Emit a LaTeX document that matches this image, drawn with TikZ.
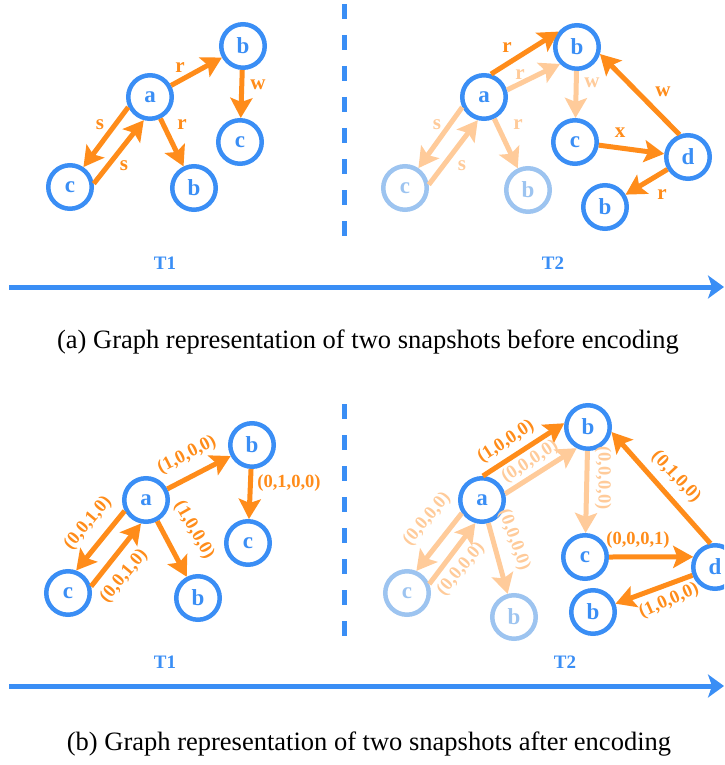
\documentclass[tikz,border=0pt]{standalone}
\usepackage{fontspec}
\usepackage{graphicx}
\setmainfont{Liberation Serif}
\usetikzlibrary{arrows.meta}
\definecolor{nblue}{HTML}{3A8EF5}
\definecolor{lblue}{HTML}{9DC4F0}
\definecolor{dor}{HTML}{FF8C1A}
\definecolor{lor}{HTML}{FFCB9A}
\tikzset{
 nd/.style={circle,draw=nblue,line width=4.5pt,minimum size=43.5pt,inner sep=0pt,text=nblue,font=\bfseries\fontsize{23}{23}\selectfont},
 ndl/.style={nd,draw=lblue,text=lblue},
 ed/.style={draw=dor,line width=5pt,-{Stealth[length=20pt,width=22pt,inset=4pt]}},
 edl/.style={ed,draw=lor},
 lab/.style={text=dor,font=\bfseries\fontsize{21}{21}\selectfont,inner sep=0pt},
 labl/.style={lab,text=lor},
 vlab/.style={text=dor,font=\bfseries\fontsize{18.5}{18.5}\selectfont,inner sep=0pt},
 vlabl/.style={vlab,text=lor},
 tl/.style={text=nblue,font=\bfseries\fontsize{19}{19}\selectfont,inner sep=0pt},
 axisarrow/.style={draw=nblue,line width=5pt,-{Stealth[length=16pt,width=23pt,inset=4pt]}},
 sepline/.style={draw=nblue,line width=5pt,dash pattern=on 15pt off 16pt},
 captext/.style={font=\fontsize{26.5}{26.5}\selectfont,inner sep=0pt}
}
\begin{document}
\begin{tikzpicture}[x=1pt,y=-1pt]
\clip (0,0) rectangle (724,765);
% ===== Panel (a) T1 =====
\node[nd] (a1) at (150,97) {a};
\node[nd] (b1) at (243,46) {b};
\node[nd] (c1) at (240,142) {c};
\node[nd] (cl1) at (70,187) {c};
\node[nd] (bb1) at (194,188) {b};
\draw[ed] (a1) -- (b1);
\draw[ed] (b1) -- (c1);
\draw[ed] (a1) -- (bb1);
\draw[ed] (a1.205) -- (cl1.56);
\draw[ed] (cl1.8) -- (a1.255);
\node[lab] (la1) at (180,68) {r};
\node[lab] (la2) at (258,85) {w};
\node[lab] (la3) at (100,125) {s};
\node[lab] (la4) at (124,166) {s};
\node[lab] (la5) at (182,125) {r};
% ===== Panel (a) T2 =====
\node[nd] (a2) at (484,97) {a};
\node[nd] (b2) at (577,47) {b};
\node[ndl] (cl2) at (405,188) {c};
\node[ndl] (bl2) at (528,190) {b};
\node[nd] (c2) at (575,142) {c};
\node[nd] (d2) at (688,157) {d};
\node[nd] (bb2) at (605,207) {b};
\draw[edl] (a2.17) -- (b2.225);
\draw[edl] (b2) -- (c2);
\draw[edl] (a2.205) -- (cl2.56);
\draw[edl] (cl2.8) -- (a2.255);
\draw[edl] (a2) -- (bl2);
\draw[ed] (a2.73) -- (b2.140);
\draw[ed] (c2) -- (d2);
\draw[ed] (d2.111) -- (b2.-17);
\draw[ed] (d2) -- (bb2);
\node[lab] (lb1) at (507,48) {r};
\node[labl] (lb2) at (520,75) {r};
\node[labl] (lb3) at (592,83) {w};
\node[lab] (lb4) at (663,92) {w};
\node[lab] (lb5) at (620,133) {x};
\node[lab] (lb6) at (662,195) {r};
\node[labl] (lb7) at (437,125) {s};
\node[labl] (lb8) at (462,166) {s};
\node[labl] (lb9) at (518,125) {r};
% separator, timeline, caption (a)
\coordinate (s1a) at (344,4);
\coordinate (s1b) at (344,236);
\draw[sepline] (s1a) -- (s1b);
\node[tl] (t1a) at (165,263) {T1};
\node[tl] (t2a) at (553,263) {T2};
\coordinate (ax1) at (9,287);
\coordinate (ax2) at (724,287);
\draw[axisarrow] (ax1) -- (ax2);
\node[captext] (capa) at (368,342) {(a) Graph representation of two snapshots before encoding};
% ===== Panel (b) T1 =====
\node[nd] (a3) at (146,500) {a};
\node[nd] (b3) at (252,445) {b};
\node[nd] (c3) at (248,543) {c};
\node[nd] (cl3) at (68,593) {c};
\node[nd] (bb3) at (198,598) {b};
\draw[ed] (a3) -- (b3);
\draw[ed] (b3) -- (c3);
\draw[ed] (a3) -- (bb3);
\draw[ed] (a3.207) -- (cl3.70);
\draw[ed] (cl3.16) -- (a3.258);
\node[vlab,rotate=27] (lc1) at (187,455) {(1,0,0,0)};
\node[vlab] (lc2) at (289,483) {(0,1,0,0)};
\node[vlab,rotate=-60] (lc3) at (194,530) {(1,0,0,0)};
\node[vlab,rotate=50] (lc4) at (88,523) {(0,0,1,0)};
\node[vlab,rotate=50] (lc5) at (124,576) {(0,0,1,0)};
% ===== Panel (b) T2 =====
\node[nd] (a4) at (482,500) {a};
\node[nd] (b4) at (588,427) {b};
\node[ndl] (cl4) at (407,593) {c};
\node[ndl] (bl4) at (514,617) {b};
\node[nd] (c4) at (585,557) {c};
\node[nd] (d4) at (715,567) {d};
\node[nd] (bb4) at (593,612) {b};
\draw[edl] (a4.15) -- (b4.242);
\draw[edl] (b4) -- (c4);
\draw[edl] (a4.213) -- (cl4.67);
\draw[edl] (cl4.22) -- (a4.254);
\draw[edl] (a4) -- (bl4);
\draw[ed] (a4.88) -- (b4.171);
\draw[ed] (c4.0) -- (d4.155);
\draw[ed] (d4.101) -- (b4.-12);
\draw[ed] (d4) -- (bb4);
\node[vlab,rotate=33] (ld1) at (506,442) {(1,0,0,0)};
\node[vlabl,rotate=33] (ld2) at (530,462) {(0,0,0,0)};
\node[vlabl,rotate=-90] (ld3) at (603,478) {(0,0,0,0)};
\node[vlab,rotate=-47] (ld4) at (676,477) {(0,1,0,0)};
\node[vlab] (ld5) at (638,540) {(0,0,0,1)};
\node[vlab,rotate=24] (ld6) at (669,601) {(1,0,0,0)};
\node[vlabl,rotate=50] (ld7) at (427,519) {(0,0,0,0)};
\node[vlabl,rotate=50] (ld8) at (461,569) {(0,0,0,0)};
\node[vlabl,rotate=-70] (ld9) at (514,540) {(0,0,0,0)};
% separator, timeline, caption (b)
\coordinate (s2a) at (344,404);
\coordinate (s2b) at (344,636);
\draw[sepline] (s2a) -- (s2b);
\node[tl] (t1b) at (165,662) {T1};
\node[tl] (t2b) at (565,662) {T2};
\coordinate (bx1) at (9,686);
\coordinate (bx2) at (724,686);
\draw[axisarrow] (bx1) -- (bx2);
\node[captext] (capb) at (369,744) {(b) Graph representation of two snapshots after encoding};
\end{tikzpicture}
\end{document}
